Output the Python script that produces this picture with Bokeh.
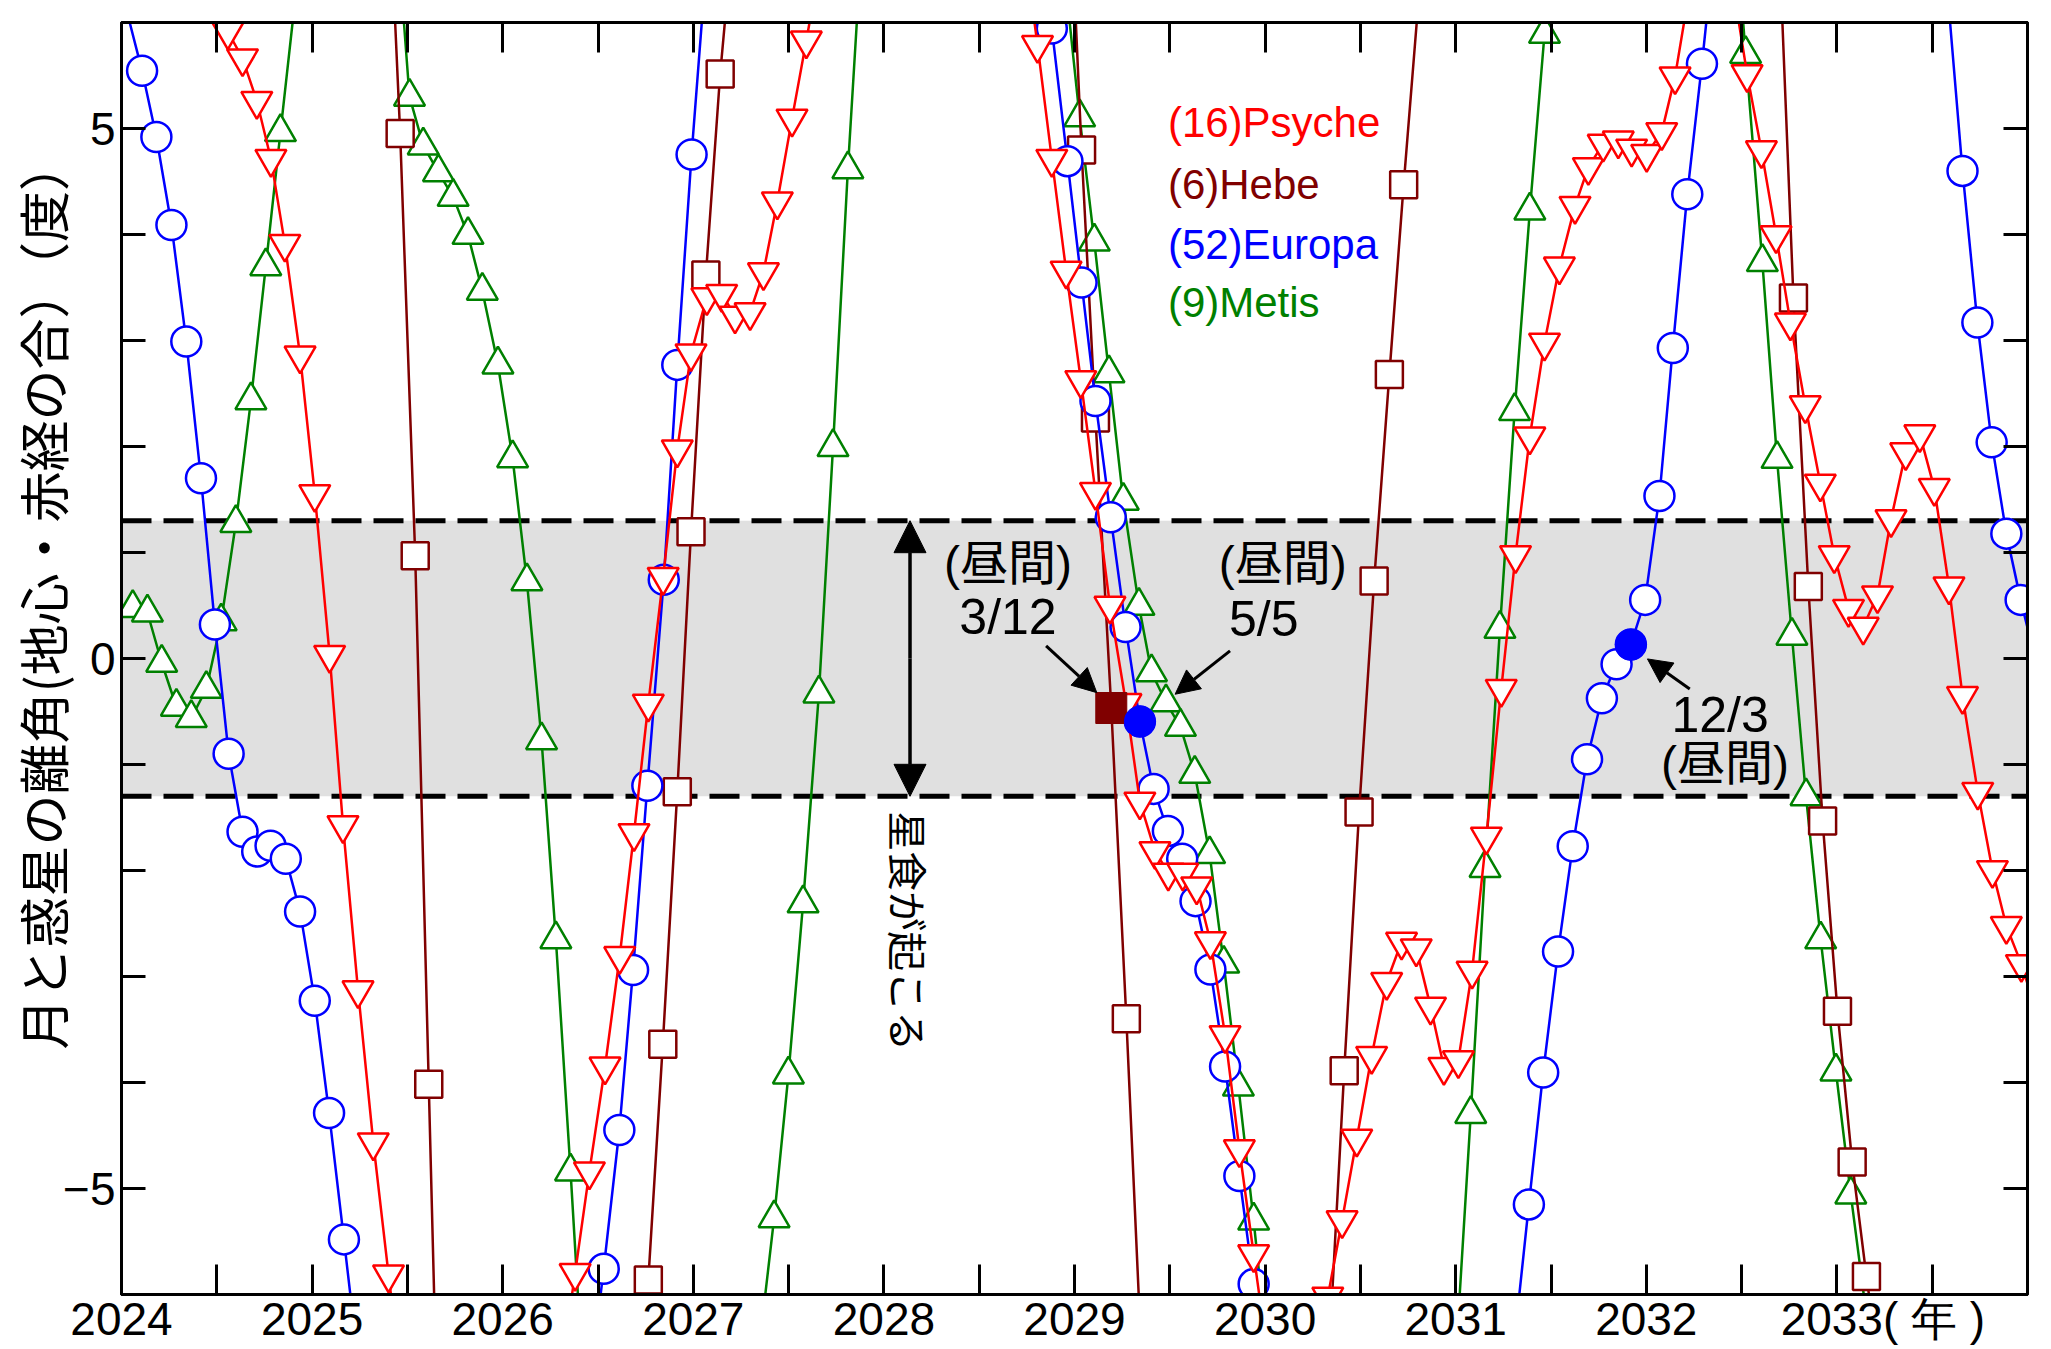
import math
from bokeh.plotting import figure
from bokeh.models import (Range1d, FixedTicker, LinearAxis, Label, Arrow, NormalHead,
                          BoxAnnotation, Span, ColumnDataSource)
from bokeh.embed import file_html
from bokeh.resources import INLINE

N = float("nan")

# ---- data: decimal year of each conjunction, separation (deg) ----
psyche_t = [2024.480, 2024.558, 2024.635, 2024.710, 2024.784, 2024.857, 2024.937, 2025.014, 2025.092, 2025.162, 2025.241, 2025.321, 2025.401, 2025.480, N,
            2026.300, 2026.380, 2026.455, 2026.537, 2026.614, 2026.689, 2026.764, 2026.842, 2026.916, 2026.988, 2027.071, 2027.149, 2027.219, 2027.298, 2027.368, 2027.441, 2027.518, 2027.593, 2027.670, N,
            2028.730, 2028.806, 2028.881, 2028.956, 2029.033, 2029.110, 2029.186, 2029.270, 2029.343, 2029.422, 2029.492, 2029.568, 2029.641, 2029.713, 2029.790, 2029.865, 2029.940, 2030.015, N,
            2030.250, 2030.329, 2030.404, 2030.481, 2030.559, 2030.638, 2030.716, 2030.793, 2030.868, 2030.938, 2031.014, 2031.086, 2031.161, 2031.239, 2031.314, 2031.389, 2031.466, 2031.544, 2031.626, 2031.696, 2031.774, 2031.853, 2031.923, 2032.002, 2032.081, 2032.151, 2032.226, N,
            2032.450, 2032.529, 2032.604, 2032.681, 2032.756, 2032.834, 2032.913, 2032.986, 2033.061, 2033.138, 2033.213, 2033.284, 2033.361, 2033.435, 2033.511, 2033.588, 2033.659, 2033.739, 2033.816, 2033.889, 2033.968, 2034.040]
psyche_d = [6.2, 5.915, 5.662, 5.26, 4.713, 3.912, 2.858, 1.551, 0.034, -1.572, -3.13, -4.565, -5.81, -7.0, N,
            -6.8, -5.797, -4.839, -3.849, -2.807, -1.648, -0.426, 0.77, 1.973, 2.879, 3.408, 3.44, 3.235, 3.266, 3.644, 4.312, 5.093, 5.83, 6.6, N,
            6.8, 5.788, 4.713, 3.659, 2.626, 1.572, 0.498, -0.42, -1.35, -1.817, -2.02, -2.02, -2.15, -2.668, -3.553, -4.63, -5.62, -6.6, N,
            -7.2, -6.02, -5.3, -4.53, -3.749, -3.052, -2.672, -2.735, -3.284, -3.854, -3.79, -2.946, -1.68, -0.287, 0.975, 2.094, 2.98, 3.698, 4.27, 4.636, 4.856, 4.887, 4.81, 4.76, 4.966, 5.492, 6.3, N,
            6.4, 5.513, 4.795, 3.993, 3.17, 2.389, 1.65, 0.975, 0.468, 0.30, 0.596, 1.313, 1.946, 2.115, 1.608, 0.68, -0.354, -1.258, -1.996, -2.524, -2.883, -3.3]

hebe_t = [2025.383, 2025.462, 2025.541, 2025.612, 2025.690, N,
          2026.690, 2026.764, 2026.840, 2026.916, 2026.988, 2027.066, 2027.141, 2027.216, N,
          2028.960, 2029.037, 2029.110, 2029.193, 2029.272, 2029.350, N,
          2030.340, 2030.415, 2030.493, 2030.572, 2030.652, 2030.727, 2030.800, N,
          2032.694, 2032.772, 2032.850, 2032.925, 2033.003, 2033.080, 2033.155, 2033.230]
hebe_d = [8.1, 4.954, 0.97, -4.017, -9.5, N,
          -8.0, -5.864, -3.638, -1.256, 1.195, 3.617, 5.514, 7.0, N,
          7.9, 4.797, 2.268, -0.467, -3.398, -6.53, N,
          -6.4, -3.89, -1.449, 0.73, 2.68, 4.47, 6.1, N,
          6.9, 3.40, 0.68, -1.532, -3.327, -4.749, -5.83, -6.8]

europa_t = [2024.033, 2024.108, 2024.183, 2024.262, 2024.340, 2024.417, 2024.490, 2024.562, 2024.635, 2024.712, 2024.782, 2024.862, 2024.937, 2025.014, 2025.089, 2025.167, 2025.240, N,
            2026.455, 2026.530, 2026.612, 2026.684, 2026.759, 2026.845, 2026.916, 2026.991, 2027.066, N,
            2028.806, 2028.881, 2028.963, 2029.037, 2029.110, 2029.190, 2029.268, 2029.343, 2029.415, 2029.490, 2029.565, 2029.635, 2029.713, 2029.790, 2029.865, 2029.940, 2030.015, N,
            2031.309, 2031.384, 2031.459, 2031.537, 2031.614, 2031.689, 2031.767, 2031.844, 2031.919, 2031.994, 2032.069, 2032.139, 2032.215, 2032.292, 2032.367, N,
            2033.584, 2033.659, 2033.737, 2033.812, 2033.889, 2033.964, 2034.040]
europa_d = [6.07, 5.544, 4.92, 4.09, 2.99, 1.70, 0.32, -0.898, -1.635, -1.82, -1.766, -1.89, -2.386, -3.228, -4.287, -5.48, -6.61, N,
            -6.88, -5.758, -4.448, -2.939, -1.20, 0.742, 2.77, 4.755, 6.5, N,
            7.2, 5.944, 4.692, 3.546, 2.429, 1.332, 0.296, -0.594, -1.23, -1.627, -1.889, -2.289, -2.934, -3.849, -4.882, -5.902, -7.0, N,
            -6.42, -5.15, -3.905, -2.765, -1.772, -0.95, -0.376, -0.055, 0.131, 0.553, 1.533, 2.93, 4.38, 5.61, 6.9, N,
            6.21, 4.60, 3.17, 2.039, 1.178, 0.553, 0.0]

metis_t = [2024.059, 2024.136, 2024.211, 2024.288, 2024.366, 2024.445, 2024.523, 2024.600, 2024.679, 2024.757, 2024.834, 2024.910, N,
           2025.436, 2025.511, 2025.583, 2025.663, 2025.740, 2025.818, 2025.893, 2025.975, 2026.052, 2026.127, 2026.204, 2026.279, 2026.356, 2026.430, N,
           2027.350, 2027.424, 2027.499, 2027.576, 2027.659, 2027.733, 2027.811, 2027.890, N,
           2028.952, 2029.027, 2029.104, 2029.181, 2029.256, 2029.338, 2029.404, 2029.480, 2029.556, 2029.631, 2029.709, 2029.783, 2029.860, 2029.940, 2030.015, N,
           2031.004, 2031.079, 2031.154, 2031.232, 2031.309, 2031.389, 2031.466, 2031.540, N,
           2032.440, 2032.521, 2032.609, 2032.686, 2032.764, 2032.838, 2032.915, 2032.995, 2033.073, 2033.148]
metis_d = [0.477, 0.434, -0.04, -0.455, -0.561, -0.287, 0.35, 1.278, 2.436, 3.70, 4.966, 6.2, N,
           7.1, 5.30, 4.84, 4.587, 4.355, 3.996, 3.47, 2.774, 1.889, 0.729, -0.771, -2.648, -4.839, -7.07, N,
           -6.43, -5.28, -3.925, -2.31, -0.33, 1.994, 4.616, 6.95, N,
           6.39, 5.105, 3.933, 2.69, 1.488, 0.497, -0.13, -0.413, -0.645, -1.088, -1.846, -2.879, -4.039, -5.303, -6.6, N,
           -6.5, -4.297, -1.976, 0.28, 2.334, 4.226, 5.893, 7.5, N,
           7.6, 5.703, 3.74, 1.883, 0.215, -1.30, -2.65, -3.896, -5.057, -6.1]

# daytime occultations (highlighted)
hebe_day_t = [2029.193]
hebe_day_d = [-0.467]
europa_day_t = [2029.343, 2031.919]
europa_day_d = [-0.594, 0.131]

year_ticks = [2024, 2025, 2026, 2027, 2028, 2029, 2030, 2031, 2032, 2033]
year_labels = ["2024", "2025", "2026", "2027", "2028", "2029", "2030", "2031", "2032",
               "\u3000\u30002033( \u5e74 )"]
half_ticks = [2024.5, 2025.5, 2026.5, 2027.5, 2028.5, 2029.5, 2030.5, 2031.5, 2032.5, 2033.5]
deg_ticks = [-5, 0, 5]
deg_labels = ["\u22125", "0", "5"]
deg_minor = [-6, -4, -3, -2, -1, 1, 2, 3, 4, 6]
band_limit = 1.3
y_title = "\u3000\u3000\u2002月と惑星の離角(地心・赤経の合）（度）"

X0, X1, Y0, Y1 = 2024, 2034, -6, 6

JP = "'Liberation Sans', 'Noto Sans CJK JP'"

p = figure(width=2051, height=1349, output_backend="svg", toolbar_location=None,
           x_range=Range1d(X0, X1), y_range=Range1d(Y0, Y1),
           min_border_left=121, min_border_right=24, min_border_top=22, min_border_bottom=55,
           background_fill_color="white", border_fill_color="white")
p.xgrid.visible = False
p.ygrid.visible = False
p.outline_line_color = "black"
p.outline_line_width = 3
p.outline_line_alpha = 1.0

xt = FixedTicker(ticks=year_ticks, minor_ticks=half_ticks)
yt = FixedTicker(ticks=deg_ticks, minor_ticks=deg_minor)
xt_plain = FixedTicker(ticks=[], minor_ticks=sorted(year_ticks + half_ticks))
yt_plain = FixedTicker(ticks=[], minor_ticks=sorted(deg_ticks + deg_minor))

def style_axis(ax, ticker, tick_len):
    ax.ticker = ticker
    ax.axis_line_width = 3
    ax.axis_line_color = "black"
    ax.major_tick_line_width = 3
    ax.minor_tick_line_width = 3
    ax.major_tick_in = tick_len
    ax.major_tick_out = 0
    ax.minor_tick_in = tick_len
    ax.minor_tick_out = 0

xa = p.xaxis[0]
style_axis(xa, xt, 30)
xa.major_label_overrides = {t: l for t, l in zip(year_ticks, year_labels)}
xa.major_label_text_font = "Liberation Sans"
xa.major_label_text_font_size = "46px"
xa.major_label_text_color = "black"
xa.major_label_standoff = -2

ya = p.yaxis[0]
style_axis(ya, yt, 24)
ya.major_label_overrides = {t: l for t, l in zip(deg_ticks, deg_labels)}
ya.major_label_text_font = "Liberation Sans"
ya.major_label_text_font_size = "46px"
ya.major_label_text_color = "black"
ya.major_label_standoff = 6
ya.axis_label = y_title
ya.axis_label_text_font = "Noto Sans CJK JP"
ya.axis_label_text_font_size = "51px"
ya.axis_label_text_font_style = "normal"
ya.axis_label_text_color = "black"
ya.axis_label_standoff = -19

top = LinearAxis()
style_axis(top, xt_plain, 30)
p.add_layout(top, "above")
right = LinearAxis()
style_axis(right, yt_plain, 24)
p.add_layout(right, "right")

# shaded band where an occultation occurs
p.add_layout(BoxAnnotation(bottom=-band_limit, top=band_limit, fill_color="#e0e0e0",
                           fill_alpha=1.0, line_alpha=0, level="underlay"))
for yy in (band_limit, -band_limit):
    p.add_layout(Span(location=yy, dimension="width", line_color="black", line_width=5,
                      line_dash="30 12", level="underlay"))

def series(t, d, color, marker, size):
    src = ColumnDataSource(dict(x=t, y=d))
    p.line("x", "y", source=src, line_color=color, line_width=2.5)
    vis = [(a, b) for a, b in zip(t, d)
           if not (math.isnan(a) or math.isnan(b)) and abs(b) <= 6.03 and X0 <= a <= X1]
    msrc = ColumnDataSource(dict(x=[v[0] for v in vis], y=[v[1] for v in vis]))
    p.scatter("x", "y", source=msrc, marker=marker, size=size, line_color=color,
              line_width=2.5, fill_color="white")

series(metis_t, metis_d, "#008000", "triangle", 31)
series(hebe_t, hebe_d, "#800000", "square", 27)
series(europa_t, europa_d, "#0000ff", "circle", 30)
series(psyche_t, psyche_d, "#ff0000", "inverted_triangle", 31)

p.scatter(hebe_day_t, hebe_day_d, marker="square", size=31, line_color="#800000",
          fill_color="#800000", line_width=1)
p.scatter(europa_day_t, europa_day_d, marker="circle", size=31, line_color="#0000ff",
          fill_color="#0000ff", line_width=1)

# legend texts
leg_names = ["(16)Psyche", "(6)Hebe", "(52)Europa", "(9)Metis"]
leg_colors = ["#ff0000", "#800000", "#0000ff", "#008000"]
leg_y = [5.057, 4.472, 3.905, 3.358]
for n, c, yy in zip(leg_names, leg_colors, leg_y):
    p.add_layout(Label(x=2029.49, y=yy, text=n, text_color=c, text_font="Liberation Sans",
                       text_font_size="42px", text_align="left", text_baseline="middle"))

def lab(x, y, txt, size="48px", angle=0.0, font=JP):
    p.add_layout(Label(x=x, y=y, text=txt, text_color="black", text_font=font,
                       text_font_size=size, text_align="center", text_baseline="middle",
                       angle=angle))

lab(2028.651, 0.893, "(昼間)")
lab(2028.651, 0.393, "3/12", "50px")
lab(2030.093, 0.893, "(昼間)")
lab(2029.993, 0.374, "5/5", "50px")
lab(2032.387, -0.532, "12/3", "50px")
lab(2032.413, -0.986, "(昼間)")
lab(2028.132, -2.572, "星食が起こる", "40px", -math.pi / 2, "'Noto Sans CJK JP'")

def arrow(x0, y0, x1, y1, size=24, width=3):
    p.add_layout(Arrow(x_start=x0, y_start=y0, x_end=x1, y_end=y1, line_width=width,
                       line_color="black",
                       end=NormalHead(size=size, fill_color="black", line_color="black", line_width=1),
                       start=None))

arrow(2028.851, 0.119, 2029.117, -0.322)
arrow(2029.816, 0.072, 2029.528, -0.337)
arrow(2032.228, -0.287, 2032.006, -0.004)
arrow(2028.137, 0.0, 2028.137, band_limit, size=32, width=3.5)
arrow(2028.137, 0.0, 2028.137, -band_limit, size=32, width=3.5)

open("out.html", "w").write(file_html(p, INLINE))
